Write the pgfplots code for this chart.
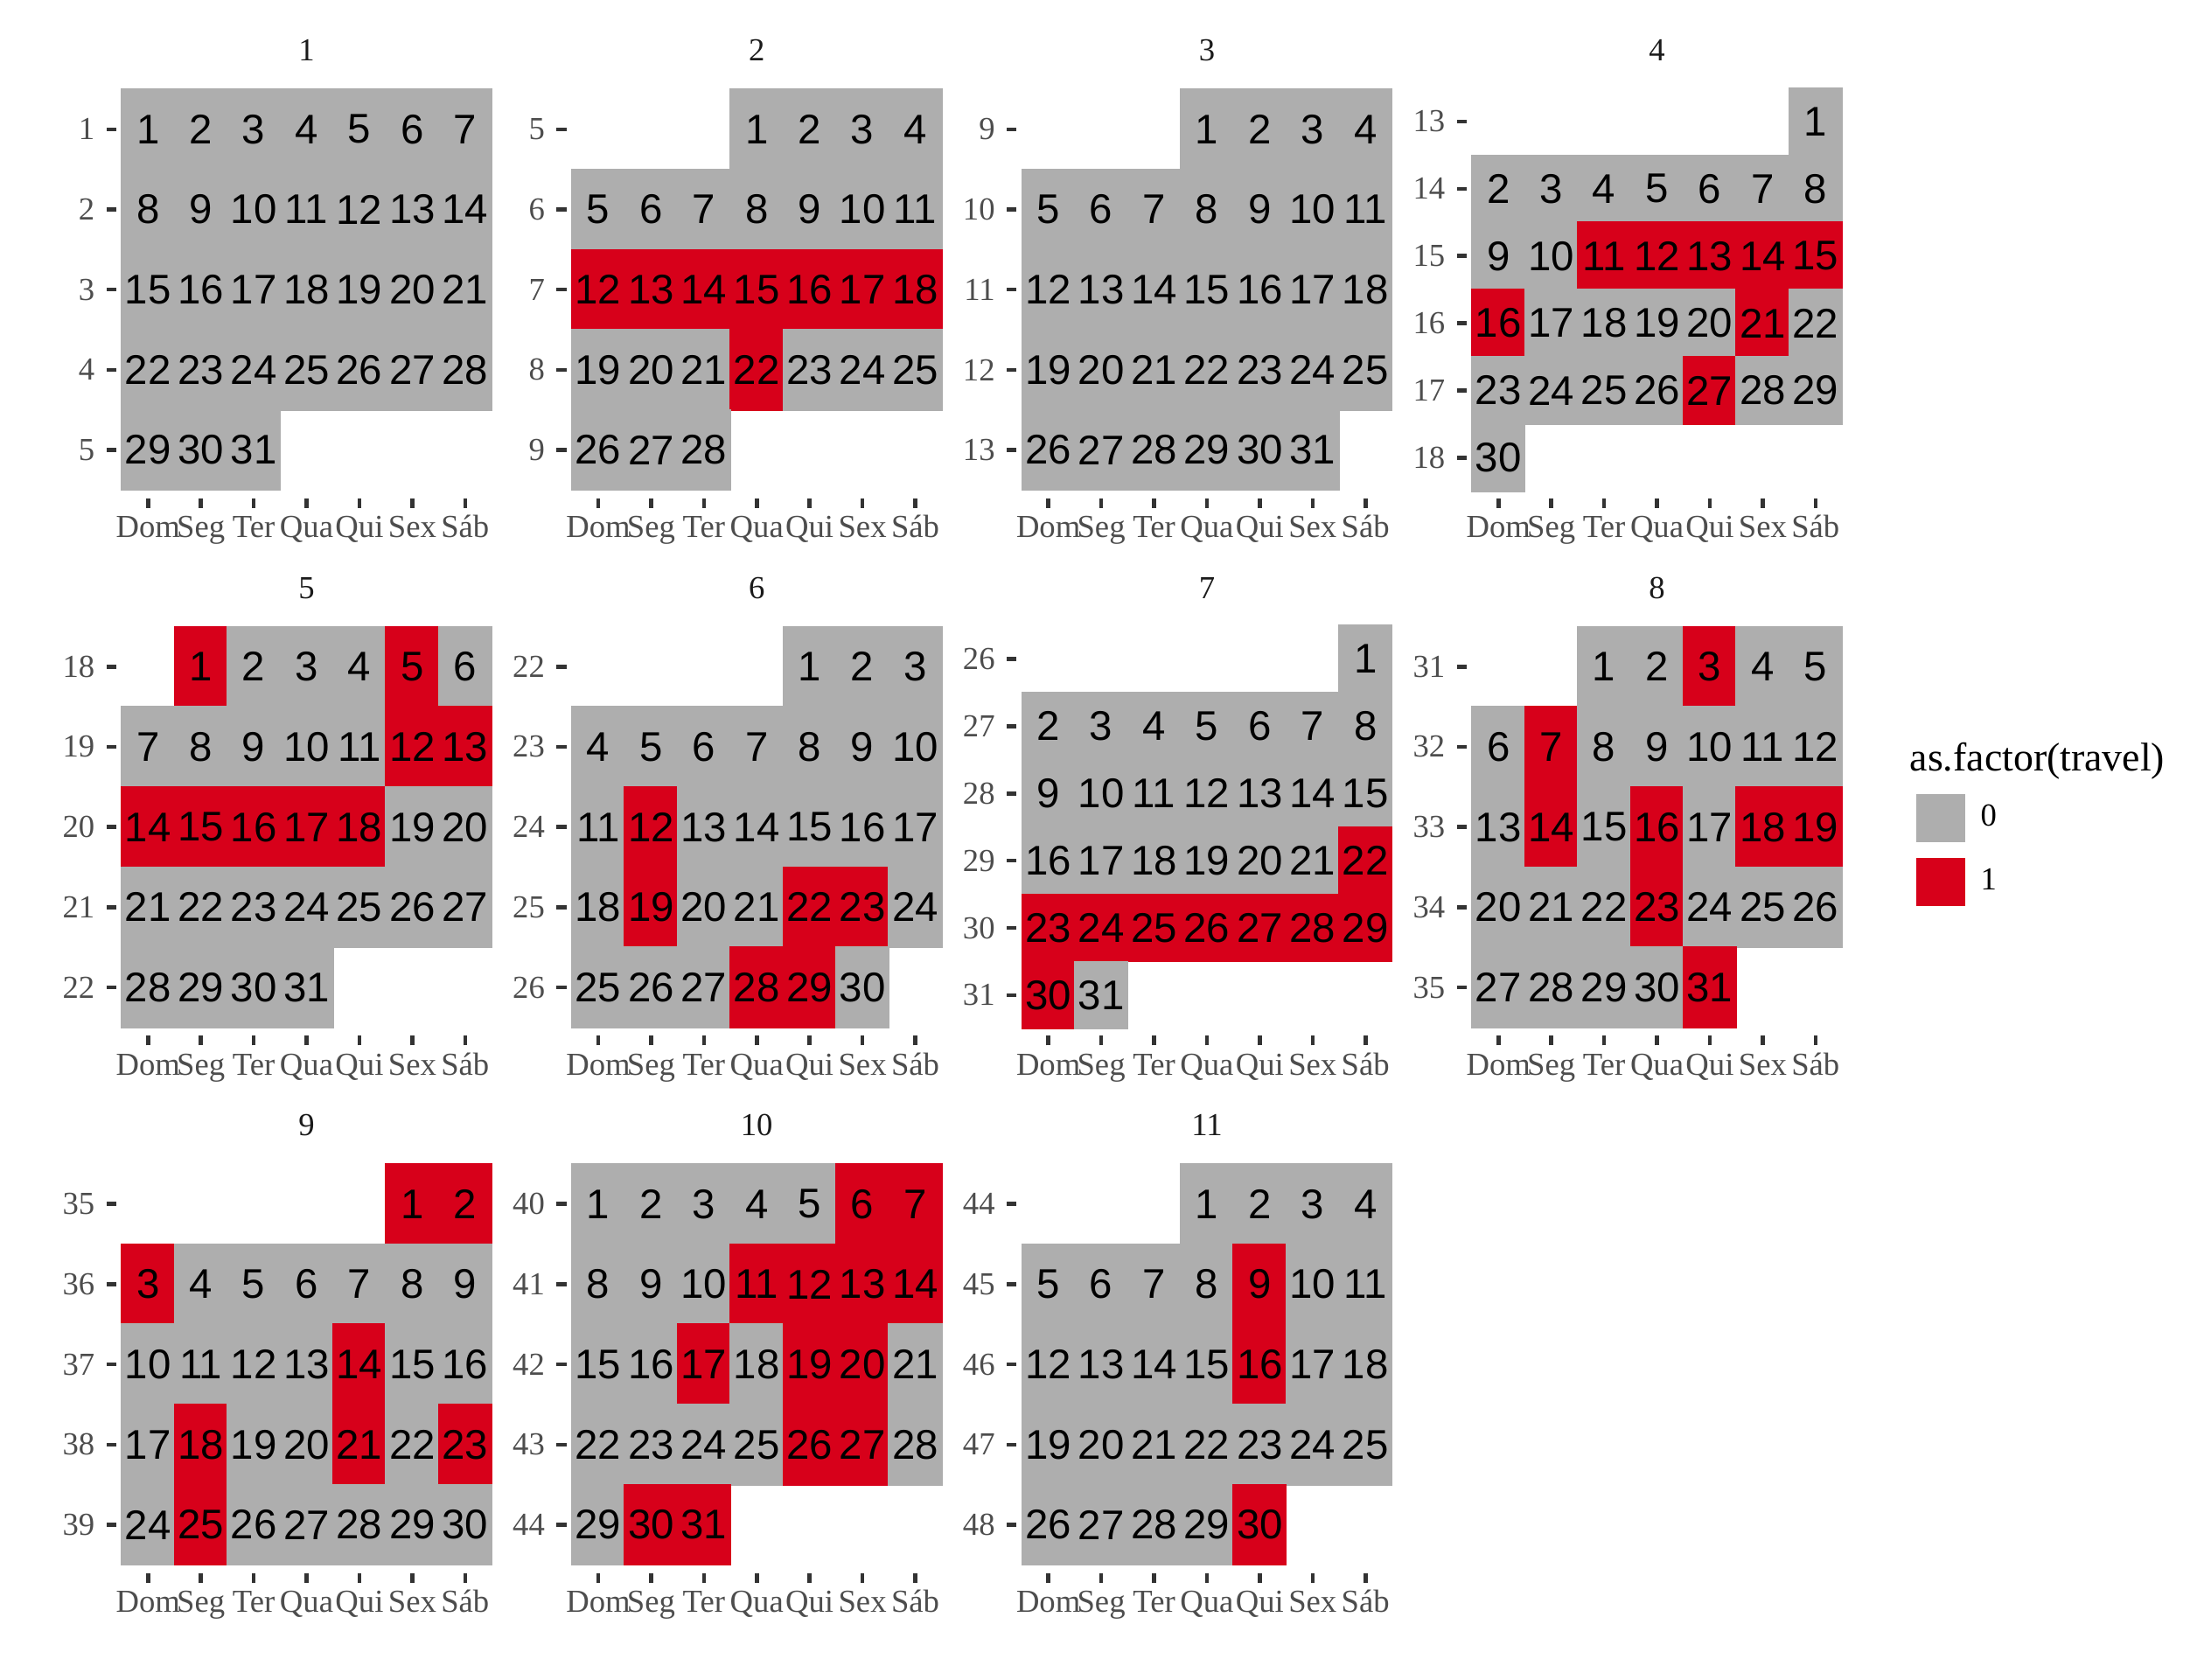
\documentclass[border=0pt]{standalone}
\usepackage{pgfplots}
\pgfplotsset{compat=1.18}
\usepackage{pgfplotstable}
\usepackage{fontspec}
\setmainfont{Liberation Serif}
\newfontfamily\sansday{Liberation Sans}
\newcommand\dayfont{\sansday\fontsize{11.38}{12}\selectfont}
\newcommand\tickfont{\fontsize{8.8}{10}\selectfont}
\newcommand\legtitlefont{\fontsize{11}{13}\selectfont}
\definecolor{tile0}{RGB}{174,174,174}
\definecolor{tile1}{RGB}{215,0,26}
\definecolor{tickcol}{RGB}{51,51,51}
\definecolor{ticklab}{RGB}{77,77,77}
\definecolor{striptext}{RGB}{26,26,26}

\def\tilew{14.503pt}
\def\tileh{22pt}
\pgfdeclareplotmark{tile}{%
  \pgfpathrectangle{\pgfpoint{-0.5*\tilew}{-0.5*\tileh}}{\pgfpoint{\tilew}{\tileh}}%
  \pgfusepathqfillstroke}

\pgfplotsset{
  calpanel/.style={
    scale only axis, width=104.42pt, height=114.43pt,
    anchor=north west,
    xmin=0.4, xmax=7.6,
    axis line style={draw=none},
    tick align=outside, tick pos=left,
    major tick length=2.7pt,
    tick style={draw=tickcol, line width=1.1pt},
    xtick={1,...,7},
    xticklabels={Dom,Seg,Ter,Qua,Qui,Sex,Sáb},
    ticklabel style={font=\tickfont, text=ticklab, inner sep=0pt},
    xticklabel style={anchor=base, yshift=-8.2pt},
    yticklabel style={anchor=east, xshift=-3.06pt},
    yticklabel={\pgfmathparse{-1*(\tick)}\pgfmathprintnumber{\pgfmathresult}},
    /pgf/number format/assume math mode=true,
    every axis title/.style={at={(0.5,1)}, anchor=base, yshift=5.5pt, inner sep=0pt, font=\tickfont, text=striptext},
  }
}

% columns: x = weekday (1 = Dom ... 7 = Sab), y = week, d = day, t = travel
\pgfplotstableread[row sep=\\]{
x y d t\\
1 1 1 0\\2 1 2 0\\3 1 3 0\\4 1 4 0\\5 1 5 0\\6 1 6 0\\7 1 7 0\\
1 2 8 0\\2 2 9 0\\3 2 10 0\\4 2 11 0\\5 2 12 0\\6 2 13 0\\7 2 14 0\\
1 3 15 0\\2 3 16 0\\3 3 17 0\\4 3 18 0\\5 3 19 0\\6 3 20 0\\7 3 21 0\\
1 4 22 0\\2 4 23 0\\3 4 24 0\\4 4 25 0\\5 4 26 0\\6 4 27 0\\7 4 28 0\\
1 5 29 0\\2 5 30 0\\3 5 31 0\\
}\tJan
\pgfplotstableread[row sep=\\]{
x y d t\\
4 5 1 0\\5 5 2 0\\6 5 3 0\\7 5 4 0\\
1 6 5 0\\2 6 6 0\\3 6 7 0\\4 6 8 0\\5 6 9 0\\6 6 10 0\\7 6 11 0\\
1 7 12 1\\2 7 13 1\\3 7 14 1\\4 7 15 1\\5 7 16 1\\6 7 17 1\\7 7 18 1\\
1 8 19 0\\2 8 20 0\\3 8 21 0\\4 8 22 1\\5 8 23 0\\6 8 24 0\\7 8 25 0\\
1 9 26 0\\2 9 27 0\\3 9 28 0\\
}\tFeb
\pgfplotstableread[row sep=\\]{
x y d t\\
4 9 1 0\\5 9 2 0\\6 9 3 0\\7 9 4 0\\
1 10 5 0\\2 10 6 0\\3 10 7 0\\4 10 8 0\\5 10 9 0\\6 10 10 0\\7 10 11 0\\
1 11 12 0\\2 11 13 0\\3 11 14 0\\4 11 15 0\\5 11 16 0\\6 11 17 0\\7 11 18 0\\
1 12 19 0\\2 12 20 0\\3 12 21 0\\4 12 22 0\\5 12 23 0\\6 12 24 0\\7 12 25 0\\
1 13 26 0\\2 13 27 0\\3 13 28 0\\4 13 29 0\\5 13 30 0\\6 13 31 0\\
}\tMar
\pgfplotstableread[row sep=\\]{
x y d t\\
7 13 1 0\\
1 14 2 0\\2 14 3 0\\3 14 4 0\\4 14 5 0\\5 14 6 0\\6 14 7 0\\7 14 8 0\\
1 15 9 0\\2 15 10 0\\3 15 11 1\\4 15 12 1\\5 15 13 1\\6 15 14 1\\7 15 15 1\\
1 16 16 1\\2 16 17 0\\3 16 18 0\\4 16 19 0\\5 16 20 0\\6 16 21 1\\7 16 22 0\\
1 17 23 0\\2 17 24 0\\3 17 25 0\\4 17 26 0\\5 17 27 1\\6 17 28 0\\7 17 29 0\\
1 18 30 0\\
}\tApr
\pgfplotstableread[row sep=\\]{
x y d t\\
2 18 1 1\\3 18 2 0\\4 18 3 0\\5 18 4 0\\6 18 5 1\\7 18 6 0\\
1 19 7 0\\2 19 8 0\\3 19 9 0\\4 19 10 0\\5 19 11 0\\6 19 12 1\\7 19 13 1\\
1 20 14 1\\2 20 15 1\\3 20 16 1\\4 20 17 1\\5 20 18 1\\6 20 19 0\\7 20 20 0\\
1 21 21 0\\2 21 22 0\\3 21 23 0\\4 21 24 0\\5 21 25 0\\6 21 26 0\\7 21 27 0\\
1 22 28 0\\2 22 29 0\\3 22 30 0\\4 22 31 0\\
}\tMay
\pgfplotstableread[row sep=\\]{
x y d t\\
5 22 1 0\\6 22 2 0\\7 22 3 0\\
1 23 4 0\\2 23 5 0\\3 23 6 0\\4 23 7 0\\5 23 8 0\\6 23 9 0\\7 23 10 0\\
1 24 11 0\\2 24 12 1\\3 24 13 0\\4 24 14 0\\5 24 15 0\\6 24 16 0\\7 24 17 0\\
1 25 18 0\\2 25 19 1\\3 25 20 0\\4 25 21 0\\5 25 22 1\\6 25 23 1\\7 25 24 0\\
1 26 25 0\\2 26 26 0\\3 26 27 0\\4 26 28 1\\5 26 29 1\\6 26 30 0\\
}\tJun
\pgfplotstableread[row sep=\\]{
x y d t\\
7 26 1 0\\
1 27 2 0\\2 27 3 0\\3 27 4 0\\4 27 5 0\\5 27 6 0\\6 27 7 0\\7 27 8 0\\
1 28 9 0\\2 28 10 0\\3 28 11 0\\4 28 12 0\\5 28 13 0\\6 28 14 0\\7 28 15 0\\
1 29 16 0\\2 29 17 0\\3 29 18 0\\4 29 19 0\\5 29 20 0\\6 29 21 0\\7 29 22 1\\
1 30 23 1\\2 30 24 1\\3 30 25 1\\4 30 26 1\\5 30 27 1\\6 30 28 1\\7 30 29 1\\
1 31 30 1\\2 31 31 0\\
}\tJul
\pgfplotstableread[row sep=\\]{
x y d t\\
3 31 1 0\\4 31 2 0\\5 31 3 1\\6 31 4 0\\7 31 5 0\\
1 32 6 0\\2 32 7 1\\3 32 8 0\\4 32 9 0\\5 32 10 0\\6 32 11 0\\7 32 12 0\\
1 33 13 0\\2 33 14 1\\3 33 15 0\\4 33 16 1\\5 33 17 0\\6 33 18 1\\7 33 19 1\\
1 34 20 0\\2 34 21 0\\3 34 22 0\\4 34 23 1\\5 34 24 0\\6 34 25 0\\7 34 26 0\\
1 35 27 0\\2 35 28 0\\3 35 29 0\\4 35 30 0\\5 35 31 1\\
}\tAug
\pgfplotstableread[row sep=\\]{
x y d t\\
6 35 1 1\\7 35 2 1\\
1 36 3 1\\2 36 4 0\\3 36 5 0\\4 36 6 0\\5 36 7 0\\6 36 8 0\\7 36 9 0\\
1 37 10 0\\2 37 11 0\\3 37 12 0\\4 37 13 0\\5 37 14 1\\6 37 15 0\\7 37 16 0\\
1 38 17 0\\2 38 18 1\\3 38 19 0\\4 38 20 0\\5 38 21 1\\6 38 22 0\\7 38 23 1\\
1 39 24 0\\2 39 25 1\\3 39 26 0\\4 39 27 0\\5 39 28 0\\6 39 29 0\\7 39 30 0\\
}\tSep
\pgfplotstableread[row sep=\\]{
x y d t\\
1 40 1 0\\2 40 2 0\\3 40 3 0\\4 40 4 0\\5 40 5 0\\6 40 6 1\\7 40 7 1\\
1 41 8 0\\2 41 9 0\\3 41 10 0\\4 41 11 1\\5 41 12 1\\6 41 13 1\\7 41 14 1\\
1 42 15 0\\2 42 16 0\\3 42 17 1\\4 42 18 0\\5 42 19 1\\6 42 20 1\\7 42 21 0\\
1 43 22 0\\2 43 23 0\\3 43 24 0\\4 43 25 0\\5 43 26 1\\6 43 27 1\\7 43 28 0\\
1 44 29 0\\2 44 30 1\\3 44 31 1\\
}\tOct
\pgfplotstableread[row sep=\\]{
x y d t\\
4 44 1 0\\5 44 2 0\\6 44 3 0\\7 44 4 0\\
1 45 5 0\\2 45 6 0\\3 45 7 0\\4 45 8 0\\5 45 9 1\\6 45 10 0\\7 45 11 0\\
1 46 12 0\\2 46 13 0\\3 46 14 0\\4 46 15 0\\5 46 16 1\\6 46 17 0\\7 46 18 0\\
1 47 19 0\\2 47 20 0\\3 47 21 0\\4 47 22 0\\5 47 23 0\\6 47 24 0\\7 47 25 0\\
1 48 26 0\\2 48 27 0\\3 48 28 0\\4 48 29 0\\5 48 30 1\\
}\tNov

% #1 left, #2 top, #3 title, #4 first week, #5 last week, #6 table, #7 extra options, #8 extra content
\newcommand\calpanel[8]{%
  \pgfmathsetmacro\yminv{-(#5)-0.6}%
  \pgfmathsetmacro\ymaxv{-(#4)+0.6}%
  \pgfmathsetmacro\tilehv{114.43/((#5)-(#4)+1.2)}%
  \edef\tileh{\tilehv pt}%
  \begin{axis}[calpanel, at={(#1,-#2)}, title={#3},
      ymin=\yminv, ymax=\ymaxv, ytick={-#5,...,-#4}, #7]
    #8
    \addplot[forget plot, scatter, only marks, scatter src=explicit symbolic,
      scatter/classes={0={mark=tile, draw=tile0, fill=tile0, line width=0.4pt},
                       1={mark=tile, draw=tile1, fill=tile1, line width=0.4pt}}]
      table[x=x, y expr=-\thisrow{y}, meta=t] {#6};
    \addplot[forget plot, only marks, mark=none, point meta=explicit symbolic,
      nodes near coords,
      every node near coord/.append style={anchor=center, inner sep=0pt, font=\dayfont, text=black}]
      table[x=x, y expr=-\thisrow{y}, meta=d] {#6};
  \end{axis}%
}

\begin{document}
\begin{tikzpicture}
\useasboundingbox (0,0) rectangle (604.8pt,-460.8pt);
\calpanel{31.92pt}{22.27pt}{1}{1}{5}{\tJan}{}{}
\calpanel{155.45pt}{22.27pt}{2}{5}{9}{\tFeb}{}{}
\calpanel{278.98pt}{22.27pt}{3}{9}{13}{\tMar}{}{}
\calpanel{402.48pt}{22.27pt}{4}{13}{18}{\tApr}{}{}
\calpanel{31.92pt}{169.75pt}{5}{18}{22}{\tMay}{}{}
\calpanel{155.45pt}{169.75pt}{6}{22}{26}{\tJun}{}{}
\calpanel{278.98pt}{169.75pt}{7}{26}{31}{\tJul}{}{}
\calpanel{402.48pt}{169.75pt}{8}{31}{35}{\tAug}{%
  legend style={at={(1.181,0.580)}, anchor=north west, draw=none, fill=none,
    inner sep=0pt, outer sep=0pt, row sep=4.4pt, font=\tickfont,
    nodes={inner xsep=4.3pt, inner ysep=0pt, text=black}},
  legend cell align=left}{%
  \addlegendimage{legend image code/.code={\fill[tile0] (0pt,-6.4pt) rectangle (13pt,6.4pt);}}
  \addlegendentry{0}
  \addlegendimage{legend image code/.code={\fill[tile1] (0pt,-6.4pt) rectangle (13pt,6.4pt);}}
  \addlegendentry{1}}
\calpanel{31.92pt}{317.22pt}{9}{35}{39}{\tSep}{}{}
\calpanel{155.45pt}{317.22pt}{10}{40}{44}{\tOct}{}{}
\calpanel{278.98pt}{317.22pt}{11}{44}{48}{\tNov}{}{}
\node[anchor=base west, inner sep=0pt, font=\legtitlefont, text=black] at (523.9pt,-211.6pt) {as.factor(travel)};
\end{tikzpicture}
\end{document}
